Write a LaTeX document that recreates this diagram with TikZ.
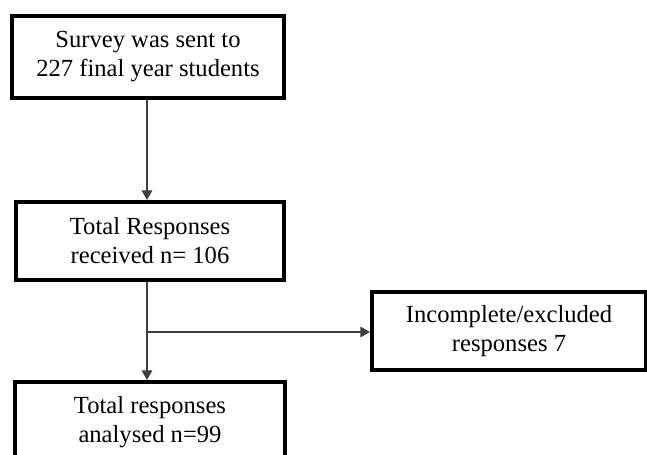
\documentclass[tikz,border=0pt]{standalone}
\usepackage{fontspec}
\setmainfont{Liberation Serif}
\usetikzlibrary{positioning,arrows.meta}

\tikzset{
    flowbox/.style={draw, line width=2.2pt, align=center, inner sep=0pt,
        font=\fontsize{14}{16.5}\selectfont},
    flowline/.style={line width=0.6pt, draw=black!75},
    flowarrow/.style={flowline, -{Triangle[length=5.5pt,width=6pt]}}
}

\begin{document}
\begin{tikzpicture}
    \useasboundingbox (0,0) rectangle (12.94,9.1);

    % Main column
    \node [flowbox, minimum width=5.44cm, minimum height=1.64cm] (sent) at (2.96,7.96)
        {Survey was sent to\\227 final year students};
    \node [flowbox, minimum width=5.36cm, minimum height=1.56cm] (received) at (3.0,4.28)
        {Total Responses\\received n= 106};
    \node [flowbox, minimum width=5.4cm, minimum height=1.6cm] (analysed) at (3.0,0.66)
        {Total responses\\analysed n=99};

    % Side box
    \node [flowbox, minimum width=5.48cm, minimum height=1.56cm] (excluded) at (10.18,2.48)
        {Incomplete/excluded\\responses 7};

    \coordinate (split) at (2.94,2.46);

    \draw [flowarrow] (sent.south -| split) -- (received.north -| split);
    \draw [flowarrow] (received.south -| split) -- (analysed.north -| split);
    \draw [flowarrow] (split) -- (excluded.west |- split);
\end{tikzpicture}
\end{document}
